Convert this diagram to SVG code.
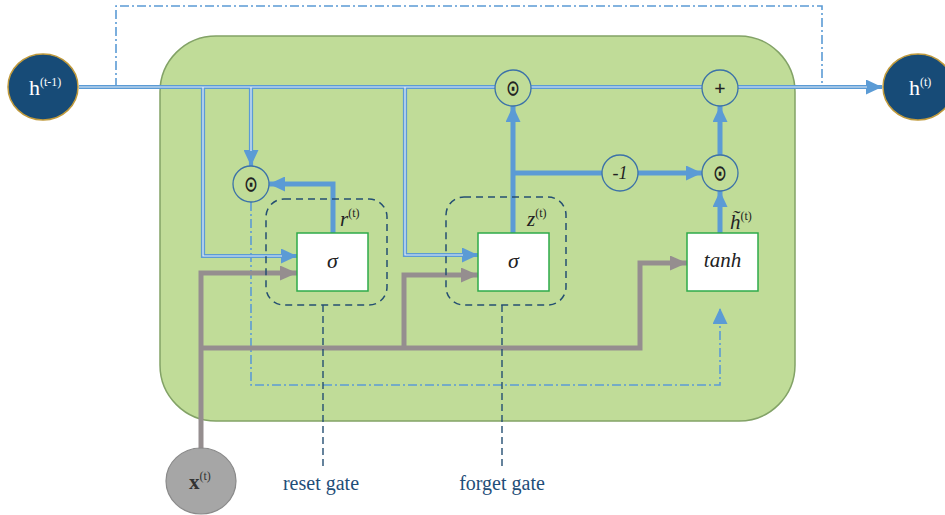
<svg xmlns="http://www.w3.org/2000/svg" width="945" height="515" viewBox="0 0 945 515">
  <style>
    .cell { fill: #c0dc98; stroke: #82a266; stroke-width: 1.5; }
    .op { fill: none; stroke: #3c72a8; stroke-width: 1.3; }
    .box { fill: #ffffff; stroke: #2eaa4a; stroke-width: 1.5; }
    .gate { fill: none; stroke: #244f72; stroke-width: 1.5; stroke-dasharray: 7 5; }
    .dbl-out { fill: none; stroke: #5b9bd5; stroke-width: 4.2; }
    .dbl-in { fill: none; stroke: #e4eef8; stroke-width: 1.2; }
    .thick { fill: none; stroke: #5b9bd5; stroke-width: 5; }
    .gray { fill: none; stroke: #958e8f; stroke-width: 5; }
    .dd { fill: none; stroke: #5b9bd5; stroke-width: 1.6; stroke-dasharray: 9 3 2 3; }
    .lead { fill: none; stroke: #244f72; stroke-width: 1.4; stroke-dasharray: 7 4; }
    .serif { font-family: "Liberation Serif", "DejaVu Serif", serif; }
    .it { font-family: "Liberation Serif", "DejaVu Serif", serif; font-style: italic; fill: #222; }
    .sup { font-style: normal; font-size: 12px; }
    .sym { font-family: "DejaVu Sans Mono", "Liberation Mono", monospace; fill: #222; text-anchor: middle; }
    .lbl { font-family: "Liberation Serif", "DejaVu Serif", serif; font-size: 20px; fill: #1f4e79; text-anchor: middle; }
  </style>
  <defs>
    <marker id="ab" markerUnits="userSpaceOnUse" markerWidth="16" markerHeight="15" refX="16" refY="7.5" orient="auto">
      <path d="M0,0 L16,7.5 L0,15 z" fill="#5b9bd5"/>
    </marker>
    <marker id="ag" markerUnits="userSpaceOnUse" markerWidth="17" markerHeight="15" refX="17" refY="7.5" orient="auto">
      <path d="M0,0 L17,7.5 L0,15 z" fill="#958e8f"/>
    </marker>
  </defs>

  <!-- GRU cell body -->
  <rect class="cell" x="160" y="36" width="635" height="385" rx="56" ry="56"/>

  <g id="connectors">
    <!-- recurrent hidden-state loop -->
    <path class="dd" d="M116,87 V6 H822 V87"/>
    <!-- reset-gated state feeding tanh -->
    <path class="dd" d="M251,202 V385 H720 V308" marker-end="url(#ab)"/>

    <!-- input x(t) routes -->
    <path class="gray" d="M201,449 V273 H297" marker-end="url(#ag)"/>
    <path class="gray" d="M201,348 H640 V263 H687" marker-end="url(#ag)"/>
    <path class="gray" d="M404,348 V275 H478" marker-end="url(#ag)"/>

    <!-- previous hidden state h(t-1), double lines -->
    <path class="dbl-out" d="M79,87 H495"/>
    <path class="dbl-out" d="M531,87 H702"/>
    <path class="dbl-out" d="M738,87 H882" marker-end="url(#ab)"/>
    <path class="dbl-out" d="M203,87 V256 H297" marker-end="url(#ab)"/>
    <path class="dbl-out" d="M251,87 V166" marker-end="url(#ab)"/>
    <path class="dbl-out" d="M405,87 V255 H478" marker-end="url(#ab)"/>
    <path class="dbl-in" d="M79,87 H495"/>
    <path class="dbl-in" d="M531,87 H702"/>
    <path class="dbl-in" d="M738,87 H867"/>
    <path class="dbl-in" d="M203,87 V256 H282"/>
    <path class="dbl-in" d="M251,87 V151"/>
    <path class="dbl-in" d="M405,87 V255 H463"/>

    <!-- gate outputs -->
    <path class="thick" d="M333,233 V184 H269" marker-end="url(#ab)"/>
    <path class="thick" d="M513,233 V106" marker-end="url(#ab)"/>
    <path class="thick" d="M513,173 H602"/>
    <path class="thick" d="M638,173 H702" marker-end="url(#ab)"/>
    <path class="thick" d="M720,233 V191" marker-end="url(#ab)"/>
    <path class="thick" d="M720,155 V106" marker-end="url(#ab)"/>

    <!-- gate leader lines -->
    <path class="lead" d="M323,305 V466"/>
    <path class="lead" d="M502,305 V466"/>
  </g>

  <!-- external nodes -->
  <g id="h-prev">
    <ellipse cx="43" cy="87" rx="35" ry="33" fill="#174b77" stroke="#c09a3c" stroke-width="1.5"/>
    <text class="serif" x="29" y="95" font-size="22" fill="#ffffff">h<tspan class="sup" dy="-9">(t-1)</tspan></text>
  </g>
  <g id="h-next">
    <ellipse cx="918" cy="87" rx="35" ry="33" fill="#174b77" stroke="#c09a3c" stroke-width="1.5"/>
    <text class="serif" x="909" y="95" font-size="22" fill="#ffffff">h<tspan class="sup" dy="-9">(t)</tspan></text>
  </g>
  <g id="x-in">
    <ellipse cx="201" cy="481" rx="35" ry="33" fill="#a6a6a6" stroke="#8a8a8a" stroke-width="1.2"/>
    <text class="serif" x="189" y="489" font-size="21" font-weight="bold" fill="#333">x<tspan class="sup" font-weight="normal" dy="-9">(t)</tspan></text>
  </g>

  <!-- reset gate -->
  <g id="reset-gate">
    <rect class="gate" x="266" y="199" width="121" height="106" rx="18" ry="18"/>
    <rect class="box" x="297" y="233" width="71" height="58"/>
    <text class="it" x="332.5" y="268" font-size="22" text-anchor="middle">σ</text>
    <text class="it" x="340" y="226" font-size="21">r<tspan class="sup" dy="-9">(t)</tspan></text>
  </g>

  <!-- update gate -->
  <g id="update-gate">
    <rect class="gate" x="446" y="197" width="120" height="108" rx="18" ry="18"/>
    <rect class="box" x="478" y="233" width="71" height="58"/>
    <text class="it" x="513.5" y="268" font-size="22" text-anchor="middle">σ</text>
    <text class="it" x="527" y="226" font-size="21">z<tspan class="sup" dy="-9">(t)</tspan></text>
  </g>

  <!-- candidate state -->
  <g id="candidate">
    <rect class="box" x="687" y="233" width="71" height="58"/>
    <text class="it" x="722.5" y="267" font-size="21" text-anchor="middle">tanh</text>
    <text class="it" x="730" y="229" font-size="21">h̃<tspan class="sup" dy="-9">(t)</tspan></text>
  </g>

  <!-- element-wise operators -->
  <g id="mul-reset">
    <circle class="op" cx="251" cy="184" r="18"/>
    <text class="sym" transform="translate(251,184) scale(0.8,1.05)" x="0" y="9" font-size="26">⊙</text>
  </g>
  <g id="mul-keep">
    <circle class="op" cx="513" cy="88" r="18"/>
    <text class="sym" transform="translate(513,88) scale(0.8,1.05)" x="0" y="9" font-size="26">⊙</text>
  </g>
  <g id="one-minus">
    <circle class="op" cx="620" cy="173" r="18"/>
    <text class="it" x="620" y="179" font-size="18" text-anchor="middle">-1</text>
  </g>
  <g id="mul-new">
    <circle class="op" cx="720" cy="173" r="18"/>
    <text class="sym" transform="translate(720,173) scale(0.8,1.05)" x="0" y="9" font-size="26">⊙</text>
  </g>
  <g id="add">
    <circle class="op" cx="720" cy="88" r="18"/>
    <text class="sym" x="720" y="94" font-size="18">+</text>
  </g>

  <!-- gate captions -->
  <g id="captions">
    <text class="lbl" x="321" y="490">reset gate</text>
    <text class="lbl" x="502" y="490">forget gate</text>
  </g>
</svg>
